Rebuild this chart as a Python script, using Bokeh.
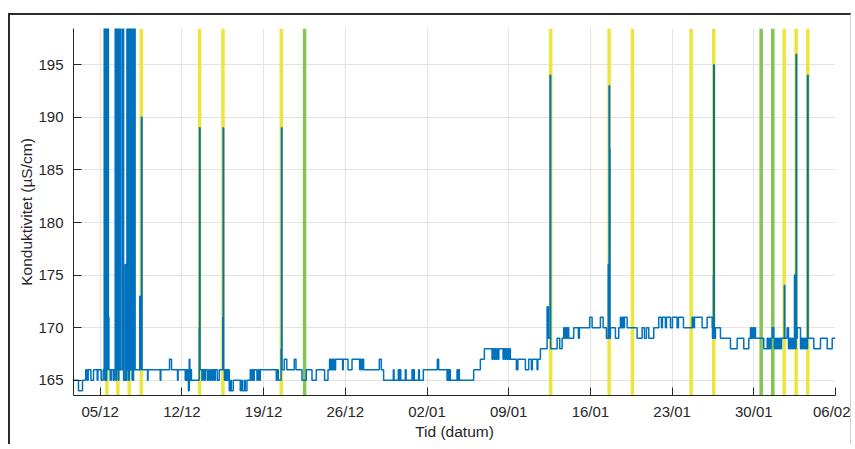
import pandas as pd
from bokeh.plotting import figure
from bokeh.models import FixedTicker, DatetimeTickFormatter, Range1d
from bokeh.embed import file_html
from bokeh.resources import INLINE

START = pd.Timestamp("2021-12-01 00:00")

# time of each step, in days since 2021-12-01 00:00
t_days = [
    1.712, 2.140, 2.483, 2.757, 2.886, 2.972, 3.203, 3.426, 3.743, 3.803, 4.086, 4.257,
    4.343, 4.395, 4.446, 4.497, 4.549, 4.600, 4.652, 4.703, 4.746, 4.857, 4.943, 5.115, 5.200,
    5.286, 5.337, 5.389, 5.440, 5.492, 5.543, 5.595, 5.646, 5.697, 5.740,
    5.886, 5.937, 5.980, 6.006, 6.143, 6.177,
    6.289, 6.340, 6.392, 6.443, 6.495, 6.546, 6.597, 6.649, 6.700, 6.735,
    6.855, 6.906, 6.949, 6.992, 7.386, 7.437, 7.489, 7.532, 7.583,
    8.055, 8.097, 9.143, 9.195, 9.940, 10.112, 10.626, 10.677,
    11.286, 11.355, 11.423, 11.492, 11.560, 11.629, 11.680, 11.749, 11.817, 11.886,
    12.486, 12.512, 12.555, 12.717, 12.786, 12.915, 13.000, 13.172, 13.257, 13.343, 13.472,
    13.600, 13.686, 13.772, 13.857, 14.029, 14.200, 14.500, 14.535, 14.577, 14.646, 14.715,
    14.783, 14.852, 14.920, 14.989, 15.057, 15.186, 15.229, 15.400, 16.000, 16.086, 16.172,
    16.343, 16.429, 16.575, 16.857, 16.943, 17.029, 17.115, 17.200, 17.432, 17.543, 17.629,
    17.715, 19.086, 19.137, 19.257, 19.497, 19.532, 19.575, 19.772, 19.986, 20.629, 20.775,
    21.289, 21.657, 22.146, 22.515, 23.226, 23.517, 23.655, 23.715, 23.775, 23.843, 23.912,
    23.972, 24.040, 24.100, 24.169, 24.769, 24.829, 25.232, 25.575, 26.226, 26.286, 26.372,
    26.457, 26.569, 27.915, 28.086, 28.283, 29.115, 29.175, 29.543, 29.612, 29.680, 29.749,
    30.143, 30.212, 30.717, 30.786, 30.855, 30.915, 31.283, 31.343, 31.686, 32.886, 32.997,
    33.717, 33.786, 33.855, 33.915, 34.000, 34.575, 34.643, 34.712, 34.772, 35.997, 36.572,
    36.915, 37.574, 37.643, 37.729, 37.815, 37.900, 37.986, 38.072, 38.157, 38.517, 38.586,
    38.672, 38.757, 38.843, 38.929, 39.015, 39.100, 39.143, 39.657, 39.786, 40.429, 40.712,
    40.943, 41.029, 41.432, 41.500, 41.715, 42.289, 42.400, 42.546, 42.597, 43.146, 43.369,
    43.575, 43.712, 43.772, 43.857, 43.943, 44.029, 44.140, 44.569, 44.972, 45.057, 45.940,
    46.146, 46.857, 47.089, 47.372, 47.526, 47.569, 47.603, 47.646, 47.680, 47.715, 48.143,
    48.426, 48.572, 48.657, 48.743, 48.829, 48.915, 49.146, 50.003, 50.432, 50.629, 50.800,
    50.998, 51.426, 51.855, 52.086, 52.172, 52.429, 52.515, 52.858, 53.029, 53.432, 53.543,
    53.972, 54.717, 54.829, 54.915, 55.575, 56.003, 56.432, 56.458, 56.543, 56.569, 56.612,
    56.715, 57.143, 58.000, 58.575, 59.140, 59.569, 59.715, 59.800, 59.886, 59.972, 60.057,
    60.143, 60.855, 61.146, 61.215, 61.300, 61.386, 61.472, 61.574, 61.712, 61.772, 61.857,
    61.943, 62.029, 62.115, 62.200, 62.286, 62.372, 62.612, 62.655, 62.860, 62.972, 63.057,
    63.143, 63.229, 63.315, 63.400, 63.486, 63.529, 63.623, 63.666, 63.718, 64.000, 64.086,
    64.172, 64.257, 64.343, 64.429, 64.515, 64.600, 64.652, 65.140, 65.715, 66.289, 66.717,
    67.000,
]

# conductivity (µS/cm) from each step time on
kond = [
    165, 164, 165, 166, 165, 166, 165, 166, 165, 166, 165, 166,
    200, 165, 200, 165, 200, 166, 200, 171, 166, 165, 166, 165, 166,
    200, 165, 200, 166, 200, 165, 200, 166, 200, 166,
    200, 166, 200, 165, 176, 165,
    200, 166, 200, 165, 200, 166, 200, 166, 200, 165,
    200, 166, 200, 166, 173, 166, 173, 190, 166,
    165, 166, 165, 166, 167, 166, 165, 166,
    165, 166, 165, 166, 164, 167, 165, 166, 165, 165,
    170, 189, 166, 165, 166, 165, 166, 165, 166, 165, 166,
    165, 166, 165, 166, 165, 166, 171, 189, 166, 165, 166,
    165, 166, 165, 166, 164, 165, 164, 165, 164, 165, 164,
    165, 164, 165, 166, 165, 166, 165, 166, 165, 166, 165,
    166, 165, 166, 165, 168, 189, 166, 167, 166, 167, 166,
    165, 166, 165, 166, 165, 166, 167, 166, 167, 166, 167,
    166, 167, 166, 167, 166, 167, 166, 167, 166, 167, 166,
    167, 166, 167, 166, 165, 166, 165, 166, 165, 166, 165,
    166, 165, 166, 165, 166, 165, 166, 165, 166, 167, 166,
    165, 166, 165, 166, 165, 166, 165, 166, 165, 166, 167,
    168, 167, 168, 167, 168, 167, 168, 167, 168, 167, 168,
    167, 168, 167, 168, 167, 168, 167, 166, 167, 166, 167,
    166, 167, 166, 167, 168, 172, 169, 194, 168, 169, 168,
    169, 170, 169, 170, 169, 170, 169, 170, 169, 170, 171,
    170, 171, 170, 169, 176, 169, 193, 187, 169, 170, 169,
    170, 171, 170, 171, 170, 171, 170, 169, 170, 169, 170,
    169, 170, 171, 170, 171, 170, 171, 170, 171, 170, 171,
    170, 171, 170, 171, 170, 171, 170, 169, 175, 195, 169,
    170, 169, 168, 169, 168, 169, 170, 169, 170, 169, 170,
    169, 168, 169, 168, 169, 168, 169, 170, 169, 168, 169,
    168, 169, 168, 169, 168, 169, 174, 169, 170, 168, 169,
    168, 169, 168, 169, 175, 168, 196, 169, 170, 168, 169,
    168, 169, 168, 169, 168, 194, 169, 168, 169, 168, 169,
    169,
]

# marked events (days since 2021-12-01)
yellow_days = [4.572, 5.515, 6.486, 7.514, 12.512, 14.518, 19.515, 42.597, 47.603,
               49.600, 54.630, 56.569, 62.600, 63.630, 64.626]
green_days = [21.512, 60.630, 61.626]

x_tick_dates = ["2021-12-05", "2021-12-12", "2021-12-19", "2021-12-26", "2022-01-02",
                "2022-01-09", "2022-01-16", "2022-01-23", "2022-01-30", "2022-02-06"]
y_ticks = [165, 170, 175, 180, 185, 190, 195]
y_min, y_max = 163.55, 198.45

times = START + pd.to_timedelta(t_days, unit="D")
yel = START + pd.to_timedelta(yellow_days, unit="D")
grn = START + pd.to_timedelta(green_days, unit="D")
tick_ms = [float(v) for v in (pd.to_datetime(x_tick_dates).astype("int64") // 10**6)]

p = figure(width=843, height=431, x_axis_type="datetime",
           x_range=Range1d(times[0], pd.Timestamp(x_tick_dates[-1])),
           y_range=Range1d(y_min, y_max),
           output_backend="svg", toolbar_location=None,
           min_border_left=63, min_border_right=18, min_border_top=13, min_border_bottom=51)
p.styles = {"position": "relative", "top": "13px", "left": "8px",
            "border-top": "2px solid #2b2b2b", "border-left": "2px solid #2b2b2b",
            "border-right": "1px solid #d0d0d0"}
p.outline_line_color = None
p.background_fill_color = "white"

p.segment(x0=yel, y0=[y_min] * len(yel), x1=yel, y1=[y_max] * len(yel),
          line_color="#ECE63C", line_width=3.5)
p.segment(x0=grn, y0=[y_min] * len(grn), x1=grn, y1=[y_max] * len(grn),
          line_color="#86C451", line_width=3.5)
p.step(x=times, y=kond, mode="after", line_color="#0072BD", line_width=1.5)

p.xaxis.ticker = FixedTicker(ticks=tick_ms)
p.xaxis.formatter = DatetimeTickFormatter(days="%d/%m", months="%d/%m", years="%d/%m",
                                          hours="%d/%m")
p.yaxis.ticker = FixedTicker(ticks=y_ticks)
p.xgrid.ticker = FixedTicker(ticks=tick_ms)
p.ygrid.ticker = FixedTicker(ticks=y_ticks)
for g in (p.xgrid, p.ygrid):
    g.grid_line_color = "#e3e3e3"
    g.grid_line_width = 1

p.xaxis.axis_label = "Tid (datum)"
p.yaxis.axis_label = "Konduktivitet (µS/cm)"
for ax in (p.xaxis, p.yaxis):
    ax.axis_line_color = "#262626"
    ax.major_tick_line_color = "#262626"
    ax.major_tick_in = 8
    ax.major_tick_out = 0
    ax.minor_tick_line_color = None
    ax.major_label_text_font = "Liberation Sans"
    ax.major_label_text_font_size = "15px"
    ax.major_label_text_color = "#262626"
    ax.axis_label_text_font = "Liberation Sans"
    ax.axis_label_text_font_size = "15.5px"
    ax.axis_label_text_font_style = "normal"
    ax.axis_label_text_color = "#262626"
p.xaxis.major_label_standoff = 7
p.xaxis.axis_label_standoff = 0
p.yaxis.major_label_standoff = 10
p.yaxis.axis_label_standoff = 0

open("out.html", "w").write(file_html(p, INLINE))
